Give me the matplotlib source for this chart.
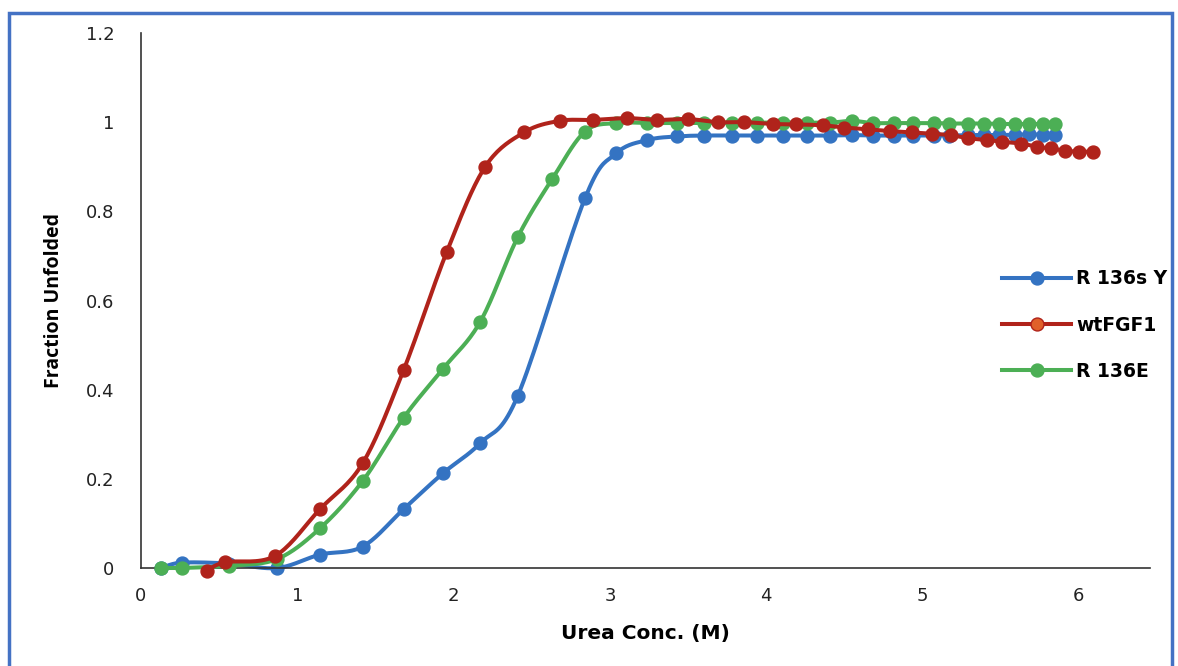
import numpy as np
import matplotlib
matplotlib.use("Agg")
import matplotlib.pyplot as plt
from matplotlib.lines import Line2D
from matplotlib.patches import Rectangle

plt.rcParams['font.family'] = ['DejaVu Sans']

# ---------------- data ----------------
x_blue = [0.13, 0.26, 0.56, 0.87, 1.145, 1.418, 1.68, 1.93, 2.17, 2.41, 2.84, 3.04, 3.24, 3.43,
          3.60, 3.78, 3.94, 4.11, 4.26, 4.41, 4.55, 4.68, 4.82, 4.94, 5.07, 5.17, 5.29, 5.39,
          5.49, 5.59, 5.68, 5.77, 5.85]
y_blue = [0.0, 0.012, 0.01, 0.0, 0.030, 0.048, 0.132, 0.212, 0.28, 0.386, 0.829, 0.93, 0.96, 0.968,
          0.970, 0.970, 0.970, 0.970, 0.970, 0.970, 0.971, 0.970, 0.970, 0.970, 0.970, 0.970, 0.971, 0.971,
          0.971, 0.972, 0.973, 0.972, 0.971]

x_red = [0.42, 0.54, 0.857, 1.145, 1.418, 1.68, 1.955, 2.20, 2.45, 2.68, 2.89, 3.11, 3.30, 3.50,
         3.69, 3.86, 4.04, 4.19, 4.36, 4.50, 4.65, 4.79, 4.93, 5.06, 5.18, 5.29, 5.41, 5.51,
         5.63, 5.73, 5.82, 5.91, 6.00, 6.09]
y_red = [-0.006, 0.013, 0.027, 0.132, 0.235, 0.444, 0.708, 0.899, 0.977, 1.003, 1.005, 1.009, 1.005, 1.007,
         1.0, 1.0, 0.996, 0.995, 0.993, 0.988, 0.984, 0.980, 0.977, 0.974, 0.971, 0.964, 0.960, 0.956,
         0.952, 0.945, 0.941, 0.936, 0.934, 0.934]

x_green = [0.13, 0.26, 0.56, 0.87, 1.145, 1.418, 1.68, 1.93, 2.17, 2.41, 2.63, 2.84, 3.04, 3.24, 3.43,
           3.60, 3.78, 3.94, 4.11, 4.26, 4.41, 4.55, 4.68, 4.82, 4.94, 5.07, 5.17, 5.29, 5.39,
           5.49, 5.59, 5.68, 5.77, 5.85]
y_green = [0.0, 0.0, 0.005, 0.02, 0.089, 0.195, 0.337, 0.446, 0.552, 0.742, 0.872, 0.979, 0.998, 0.998, 0.998,
           0.998, 0.999, 0.999, 0.999, 0.999, 0.999, 1.003, 0.998, 0.998, 0.998, 0.998, 0.997, 0.997, 0.997,
           0.996, 0.996, 0.996, 0.996, 0.996]

labels = ['R136sY', 'wtFGF1', 'R136E']
legend_labels = ['R 136s Y', 'wtFGF1', 'R 136E']
colors = ['#3473c2', '#b0231b', '#4caf55']

x_ticks = [0, 1, 2, 3, 4, 5, 6]
y_ticks = [0, 0.2, 0.4, 0.6, 0.8, 1.0, 1.2]
y_tick_labels = ['0', '0.2', '0.4', '0.6', '0.8', '1', '1.2']


def smooth(x, y, n=20, tension=0.5):
    """Catmull-Rom style smoothing (like a smoothed line chart) through the points."""
    x = np.asarray(x, float)
    y = np.asarray(y, float)
    px = np.concatenate([[x[0]], x, [x[-1]]])
    py = np.concatenate([[y[0]], y, [y[-1]]])
    xs, ys = [], []
    t = np.linspace(0, 1, n)
    h00 = 2 * t**3 - 3 * t**2 + 1
    h10 = t**3 - 2 * t**2 + t
    h01 = -2 * t**3 + 3 * t**2
    h11 = t**3 - t**2
    for i in range(1, len(px) - 2):
        p0, p1, p2, p3 = (np.array([px[j], py[j]]) for j in (i - 1, i, i + 1, i + 2))
        m1 = tension * (p2 - p0)
        m2 = tension * (p3 - p1)
        pts = (np.outer(h00, p1) + np.outer(h10, m1) +
               np.outer(h01, p2) + np.outer(h11, m2))
        xs.extend(pts[:, 0])
        ys.extend(pts[:, 1])
    return np.array(xs), np.array(ys)


fig = plt.figure(figsize=(11.78, 6.66), dpi=100)
ax = fig.add_axes([141 / 1178, 1 - 568 / 666, (1150 - 141) / 1178, (568 - 33) / 666])

series = [(x_blue, y_blue), (x_red, y_red), (x_green, y_green)]
zorders = {0: 2, 2: 4, 1: 6}
for i, ((xs, ys), c, lab) in enumerate(zip(series, colors, labels)):
    sx, sy = smooth(xs, ys)
    z = zorders[i]
    ax.plot(sx, sy, color=c, lw=2.9, solid_capstyle='round', zorder=z, clip_on=False)
    ax.plot(xs, ys, 'o', color=c, ms=9.3, zorder=z + 0.5, clip_on=False)

ax.set_xlim(0, 6.455)
ax.set_ylim(0, 1.2)
ax.set_xticks(x_ticks)
ax.set_yticks(y_ticks)
ax.set_yticklabels(y_tick_labels)
ax.tick_params(length=0, labelsize=13, colors='#222222')
ax.tick_params(axis='x', pad=14)
ax.tick_params(axis='y', pad=19)
for s in ['top', 'right']:
    ax.spines[s].set_visible(False)
for s in ['left', 'bottom']:
    ax.spines[s].set_color('#333333')
    ax.spines[s].set_linewidth(1.2)

ax.set_xlabel('Urea Conc. (M)', fontsize=14.5, fontweight='bold', labelpad=13)
ax.set_ylabel('Fraction Unfolded', fontsize=14, fontweight='bold', labelpad=16,
              family=['Open Sans', 'DejaVu Sans'])

handles = [
    Line2D([], [], color=colors[0], lw=2.9, marker='o', ms=9.3),
    Line2D([], [], color=colors[1], lw=2.9, marker='o', ms=9.3, markerfacecolor='#e0602a',
           markeredgecolor=colors[1]),
    Line2D([], [], color=colors[2], lw=2.9, marker='o', ms=9.3),
]
fig.legend(handles, legend_labels, loc='center left', bbox_to_anchor=(985 / 1178, 1 - 325 / 666),
           frameon=False, handlelength=3.7, handletextpad=0.25, labelspacing=1.45,
           prop={'size': 13.5, 'weight': 'bold'})

# figure frame
fig.patches.append(Rectangle((9 / 1178, -0.05), (1172 - 9) / 1178, 1.05 - 13 / 666,
                             transform=fig.transFigure, fill=False, edgecolor='#4472c4', lw=2.5))

fig.savefig('out.png', dpi=100)
